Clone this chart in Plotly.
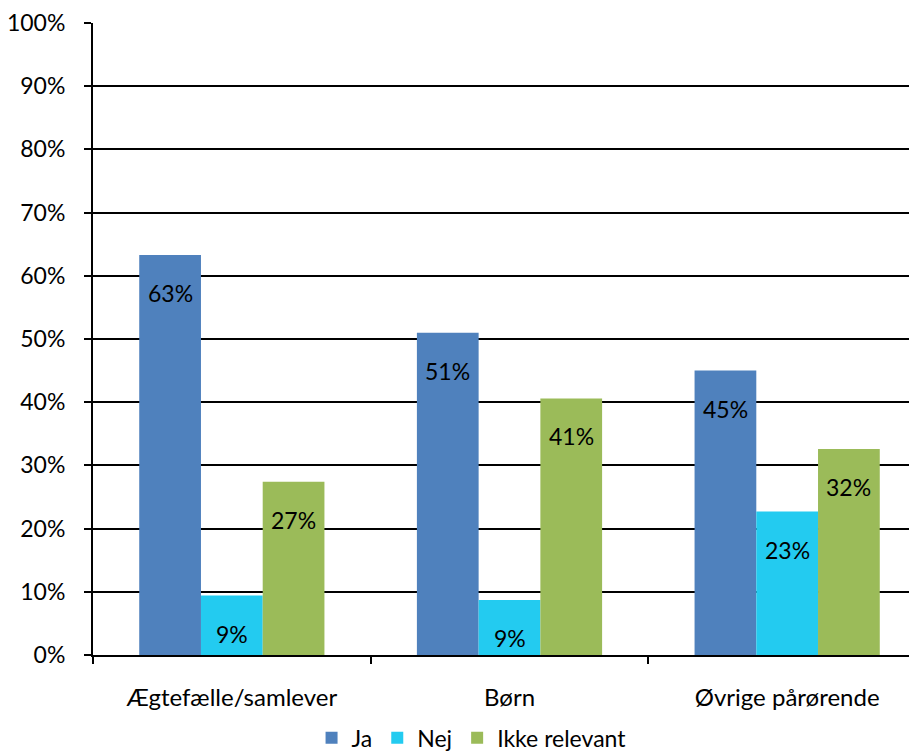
import plotly.graph_objects as go

categories = ["Ægtefælle/samlever", "Børn", "Øvrige pårørende"]
series_names = ["Ja", "Nej", "Ikke relevant"]
ja = [63.3, 51.0, 45.0]
nej = [9.4, 8.7, 22.7]
ikke = [27.4, 40.6, 32.6]
labels_ja = ["63%", "51%", "45%"]
labels_nej = ["9%", "9%", "23%"]
labels_ikke = ["27%", "41%", "32%"]
y_ticks = [0, 10, 20, 30, 40, 50, 60, 70, 80, 90, 100]
y_ticktext = [f"{v}%" for v in y_ticks]

colors = ["#4F81BD", "#23CBF0", "#9BBB59"]
FONT = "Lato, 'Open Sans', sans-serif"

fig = go.Figure()
all_vals = [ja, nej, ikke]
all_labels = [labels_ja, labels_nej, labels_ikke]
for name, vals, col in zip(series_names, all_vals, colors):
    fig.add_trace(go.Bar(name=name, x=categories, y=vals, marker_color=col,
                         marker_line_width=0))

# data labels inside bars near the top
bar_px = 61.7
offsets = [-bar_px, 0, bar_px]
for vals, labs, off in zip(all_vals, all_labels, offsets):
    for c, v, t in zip(categories, vals, labs):
        fig.add_annotation(x=c, y=v, text=t, showarrow=False, xshift=off,
                           yshift=-38, font=dict(family=FONT, size=23, color="#000"))

fig.update_layout(
    width=917, height=753,
    margin=dict(l=85, r=0, t=15, b=106, autoexpand=False),
    plot_bgcolor="white", paper_bgcolor="white",
    barmode="group", bargap=0.333, bargroupgap=0,
    font=dict(family=FONT, size=22, color="#000"),
    showlegend=True,
    legend=dict(orientation="h", x=0.455, xanchor="center", y=-0.131, yanchor="middle",
                font=dict(family=FONT, size=23, color="#000"),
                traceorder="normal"),
)
fig.update_xaxes(range=[-0.5, 2.4964], showline=True, linecolor="#000", linewidth=2,
                 ticks="outside", tickson="boundaries", ticklen=7, tickwidth=2,
                 tickcolor="#000", showgrid=False, ticklabelstandoff=20, automargin=False,
                 tickfont=dict(family=FONT, size=24, color="#000"))
fig.update_yaxes(range=[0, 100], tickvals=y_ticks, ticktext=y_ticktext,
                 showline=True, linecolor="#000", linewidth=2,
                 ticks="outside", ticklen=7, tickwidth=2, tickcolor="#000",
                 showgrid=True, gridcolor="#000", gridwidth=2, zeroline=False,
                 ticklabelstandoff=14, automargin=False, ticklabeloverflow="allow",
                 tickfont=dict(family=FONT, size=23, color="#000"))

fig.write_html("out.html")
